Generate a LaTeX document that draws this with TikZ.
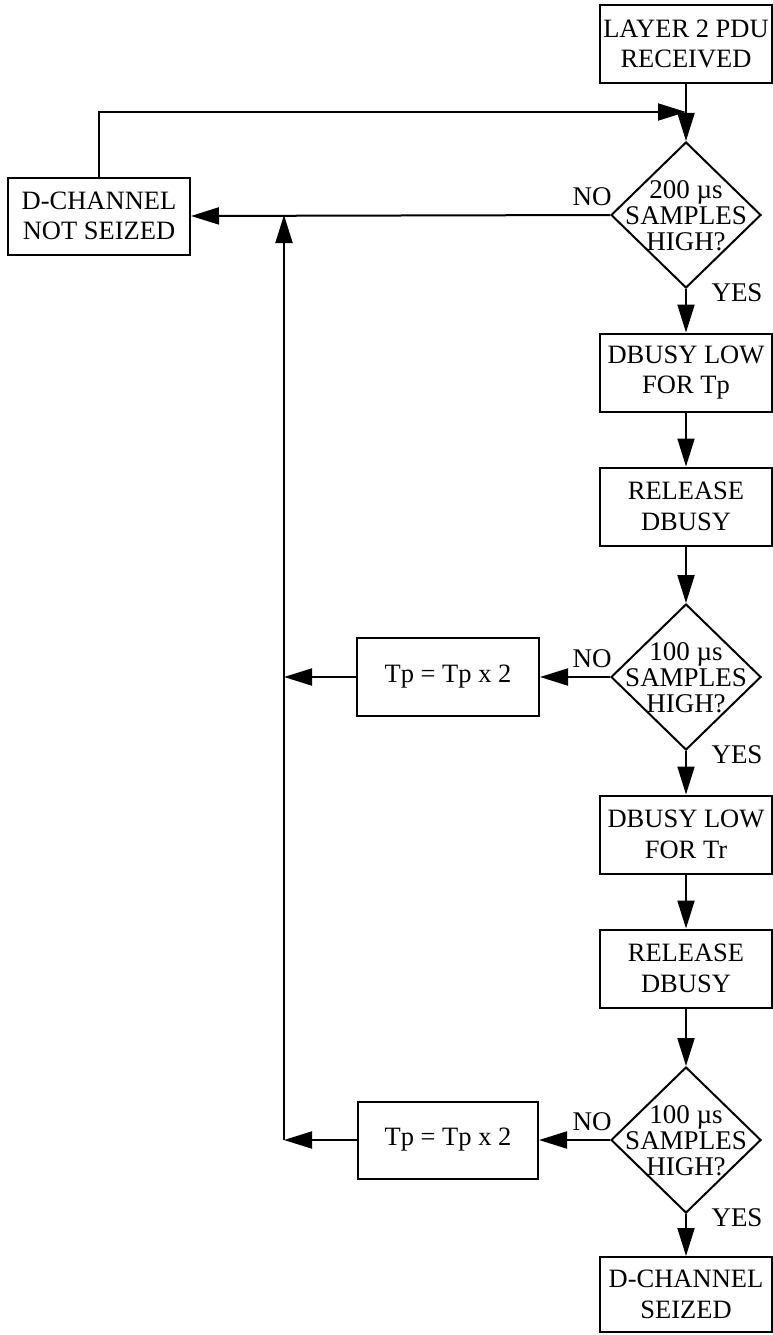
\documentclass[tikz,border=0pt]{standalone}
\usepackage{fontspec}
\setmainfont{Liberation Serif}
\usetikzlibrary{arrows.meta,shapes.geometric}
\begin{document}
\begin{tikzpicture}[x=1pt,y=-1pt,
  box/.style={draw, line width=2pt, minimum width=172pt, minimum height=78pt, inner sep=0pt, align=center, font=\fontsize{26.5}{30.5}\selectfont},
  dia/.style={draw, diamond, line width=2pt, minimum width=150pt, minimum height=146pt, inner sep=0pt},
  dtext/.style={align=center, font=\fontsize{27}{26}\selectfont, inner sep=0pt},
  lbl/.style={font=\fontsize{27}{30}\selectfont, inner sep=0pt},
  arr/.style={line width=2pt, -{Triangle[length=28pt,width=17pt]}},
  ln/.style={line width=2pt}]
\useasboundingbox (0,0) rectangle (772,1335);

% right column
\node[box] (b1) at (686,44) {LAYER 2 PDU\\RECEIVED};
\node[dia] (d1) at (686,215) {};
\node[dtext] (d1t) at (686,216) {200 µs\\SAMPLES\\HIGH?};
\node[box] (b2) at (686,372.5) {DBUSY LOW\\FOR Tp};
\node[box] (b3) at (686,506.5) {RELEASE\\DBUSY};
\node[dia] (d2) at (686,677) {};
\node[dtext] (d2t) at (686,678) {100 µs\\SAMPLES\\HIGH?};
\node[box] (b4) at (686,834.5) {DBUSY LOW\\FOR Tr};
\node[box] (b5) at (686,968.5) {RELEASE\\DBUSY};
\node[dia] (d3) at (686,1140) {};
\node[dtext] (d3t) at (686,1141) {100 µs\\SAMPLES\\HIGH?};
\node[box, minimum height=75pt] (b6) at (686,1294.5) {D-CHANNEL\\SEIZED};

% left parts
\node[box, minimum width=182pt, minimum height=77pt] (ns) at (99,216) {D-CHANNEL\\NOT SEIZED};
\node[box, minimum width=182pt] (t1) at (448,677) {Tp = Tp x 2};
\node[box, minimum width=180pt, minimum height=77pt] (t2) at (448,1140) {Tp = Tp x 2};

% labels
\node[lbl] (no1) at (592,197) {NO};
\node[lbl] (no2) at (592,659) {NO};
\node[lbl] (no3) at (592,1122) {NO};
\node[lbl] (yes1) at (737,293) {YES};
\node[lbl] (yes2) at (737,755) {YES};
\node[lbl] (yes3) at (737,1218) {YES};

% helper coordinates
\coordinate (j1) at (686,112);
\coordinate (vb) at (284,1140);

% main flow
\draw[arr] (b1.south) -- (d1.north);
\draw[arr] (d1.south) -- (b2.north);
\draw[arr] (b2.south) -- (b3.north);
\draw[arr] (b3.south) -- (d2.north);
\draw[arr] (d2.south) -- (b4.north);
\draw[arr] (b4.south) -- (b5.north);
\draw[arr] (b5.south) -- (d3.north);
\draw[arr] (d3.south) -- (b6.north);

% NO branches
\draw[arr] (d1.west) -- (ns.east);
\draw[arr] (d2.west) -- (t1.east);
\draw[arr] (d3.west) -- (t2.east);
\draw[arr] (t1.west) -- (t1.west -| vb);
\draw[arr] (t2.west) -- (vb);
\draw[arr] (vb) -- (vb |- d1.west);

% loop back
\draw[arr] (ns.north) -- (ns.north |- j1) -- (j1);
\end{tikzpicture}
\end{document}
